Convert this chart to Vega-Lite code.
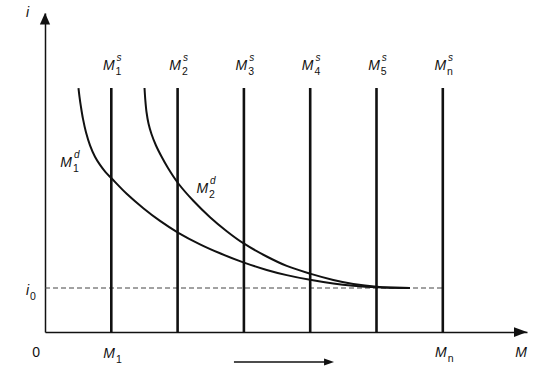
{
  "$schema": "https://vega.github.io/schema/vega-lite/v6.json",
  "width": 482,
  "height": 319,
  "autosize": {"type": "none"},
  "padding": {"left": 45, "top": 13, "right": 22, "bottom": 46},
  "background": "white",
  "config": {"view": {"stroke": null}},
  "datasets": {
    "supply": [
      {"x": 1, "y": 0, "y2": 5.545},
      {"x": 2, "y": 0, "y2": 5.545},
      {"x": 3, "y": 0, "y2": 5.545},
      {"x": 4, "y": 0, "y2": 5.545},
      {"x": 5, "y": 0, "y2": 5.545},
      {"x": 6, "y": 0, "y2": 5.545}
    ],
    "demand": [
      {"curve": "M1d", "x": 0.505, "y": 5.545},
      {"curve": "M1d", "x": 0.52, "y": 5.352},
      {"curve": "M1d", "x": 0.543, "y": 5.109},
      {"curve": "M1d", "x": 0.573, "y": 4.843},
      {"curve": "M1d", "x": 0.618, "y": 4.539},
      {"curve": "M1d", "x": 0.679, "y": 4.243},
      {"curve": "M1d", "x": 0.754, "y": 3.984},
      {"curve": "M1d", "x": 0.83, "y": 3.798},
      {"curve": "M1d", "x": 0.913, "y": 3.634},
      {"curve": "M1d", "x": 1.006, "y": 3.489},
      {"curve": "M1d", "x": 1.232, "y": 3.141},
      {"curve": "M1d", "x": 1.483, "y": 2.814},
      {"curve": "M1d", "x": 1.735, "y": 2.525},
      {"curve": "M1d", "x": 2.011, "y": 2.255},
      {"curve": "M1d", "x": 2.338, "y": 1.993},
      {"curve": "M1d", "x": 2.64, "y": 1.789},
      {"curve": "M1d", "x": 2.991, "y": 1.582},
      {"curve": "M1d", "x": 3.344, "y": 1.411},
      {"curve": "M1d", "x": 3.646, "y": 1.293},
      {"curve": "M1d", "x": 3.997, "y": 1.186},
      {"curve": "M1d", "x": 4.348, "y": 1.102},
      {"curve": "M1d", "x": 4.65, "y": 1.052},
      {"curve": "M1d", "x": 5.003, "y": 1.016},
      {"curve": "M1d", "x": 5.505, "y": 1.0},
      {"curve": "M2d", "x": 1.501, "y": 5.545},
      {"curve": "M2d", "x": 1.513, "y": 5.273},
      {"curve": "M2d", "x": 1.531, "y": 5.0},
      {"curve": "M2d", "x": 1.561, "y": 4.739},
      {"curve": "M2d", "x": 1.606, "y": 4.5},
      {"curve": "M2d", "x": 1.674, "y": 4.239},
      {"curve": "M2d", "x": 1.757, "y": 3.989},
      {"curve": "M2d", "x": 1.855, "y": 3.727},
      {"curve": "M2d", "x": 2.011, "y": 3.375},
      {"curve": "M2d", "x": 2.237, "y": 2.982},
      {"curve": "M2d", "x": 2.489, "y": 2.609},
      {"curve": "M2d", "x": 2.741, "y": 2.291},
      {"curve": "M2d", "x": 2.991, "y": 2.018},
      {"curve": "M2d", "x": 3.344, "y": 1.716},
      {"curve": "M2d", "x": 3.646, "y": 1.502},
      {"curve": "M2d", "x": 3.997, "y": 1.327},
      {"curve": "M2d", "x": 4.348, "y": 1.184},
      {"curve": "M2d", "x": 4.65, "y": 1.093},
      {"curve": "M2d", "x": 5.003, "y": 1.03},
      {"curve": "M2d", "x": 5.505, "y": 1.0}
    ],
    "trap": [{"x": 0, "x2": 6, "y": 1.0}],
    "labels": [
      {"x": 1.05, "y": 5.95, "main": "M", "sup": "s", "sub": "1"},
      {"x": 2.05, "y": 5.95, "main": "M", "sup": "s", "sub": "2"},
      {"x": 3.05, "y": 5.95, "main": "M", "sup": "s", "sub": "3"},
      {"x": 4.05, "y": 5.95, "main": "M", "sup": "s", "sub": "4"},
      {"x": 5.05, "y": 5.95, "main": "M", "sup": "s", "sub": "5"},
      {"x": 6.05, "y": 5.95, "main": "M", "sup": "s", "sub": "n"},
      {"x": 0.407, "y": 3.75, "main": "M", "sup": "d", "sub": "1"},
      {"x": 2.46, "y": 3.16, "main": "M", "sup": "d", "sub": "2"},
      {"x": 1.056, "y": -0.59, "main": "M", "sup": "", "sub": "1"},
      {"x": 6.06, "y": -0.57, "main": "M", "sup": "", "sub": "n"},
      {"x": 7.27, "y": -0.57, "main": "M", "sup": "", "sub": ""},
      {"x": -0.24, "y": 7.16, "main": "i", "sup": "", "sub": ""},
      {"x": -0.24, "y": 0.84, "main": "i", "sup": "", "sub": "0"}
    ],
    "origin": [{"x": -0.075, "y": -0.57, "main": "0"}],
    "xhead": [{"x": 7.27, "y": 0}],
    "yhead": [{"x": 0, "y": 7.25}],
    "shift": [{"x": 2.85, "x2": 4.25, "y": -0.68}],
    "shifthead": [{"x": 4.36, "y": -0.68}]
  },
  "encoding": {
    "x": {
      "field": "x",
      "type": "quantitative",
      "scale": {"domain": [0, 7.27], "nice": false, "zero": false},
      "axis": {"ticks": false, "labels": false, "grid": false, "title": null, "domainColor": "#111", "domainWidth": 1.5}
    },
    "y": {
      "field": "y",
      "type": "quantitative",
      "scale": {"domain": [0, 7.25], "nice": false, "zero": false},
      "axis": {"ticks": false, "labels": false, "grid": false, "title": null, "domainColor": "#111", "domainWidth": 1.5}
    }
  },
  "layer": [
    {
      "data": {"name": "trap"},
      "mark": {"type": "rule", "color": "#444", "strokeWidth": 1, "strokeDash": [5, 3]},
      "encoding": {"x2": {"field": "x2"}}
    },
    {
      "data": {"name": "supply"},
      "mark": {"type": "rule", "color": "#111", "strokeWidth": 2.6},
      "encoding": {"y2": {"field": "y2"}}
    },
    {
      "data": {"name": "demand"},
      "mark": {"type": "line", "color": "#111", "strokeWidth": 2, "interpolate": "catmull-rom"},
      "encoding": {"detail": {"field": "curve"}, "order": {"field": "x"}}
    },
    {
      "data": {"name": "xhead"},
      "mark": {"type": "point", "shape": "M0,0L-2,-0.75L-2,0.75Z", "size": 169, "filled": true, "color": "#111", "opacity": 1}
    },
    {
      "data": {"name": "yhead"},
      "mark": {"type": "point", "shape": "M0,0L-0.9,2L0.9,2Z", "size": 130, "filled": true, "color": "#111", "opacity": 1}
    },
    {
      "data": {"name": "shift"},
      "mark": {"type": "rule", "color": "#111", "strokeWidth": 1.5},
      "encoding": {"x2": {"field": "x2"}}
    },
    {
      "data": {"name": "shifthead"},
      "mark": {"type": "point", "shape": "M0,0L-2,-0.7L-2,0.7Z", "size": 100, "filled": true, "color": "#111", "opacity": 1}
    },
    {
      "data": {"name": "labels"},
      "mark": {"type": "text", "align": "right", "baseline": "alphabetic", "font": "Liberation Sans", "fontStyle": "italic", "fontSize": 14, "color": "#111"},
      "encoding": {"text": {"field": "main"}}
    },
    {
      "data": {"name": "labels"},
      "mark": {"type": "text", "align": "left", "baseline": "alphabetic", "dx": 2, "dy": -9, "font": "Liberation Sans", "fontStyle": "italic", "fontSize": 10, "color": "#111"},
      "encoding": {"text": {"field": "sup"}}
    },
    {
      "data": {"name": "labels"},
      "mark": {"type": "text", "align": "left", "baseline": "alphabetic", "dx": 1, "dy": 5, "font": "Liberation Sans", "fontSize": 10.5, "color": "#111"},
      "encoding": {"text": {"field": "sub"}}
    },
    {
      "data": {"name": "origin"},
      "mark": {"type": "text", "align": "right", "baseline": "alphabetic", "font": "Liberation Sans", "fontSize": 14, "color": "#111"},
      "encoding": {"text": {"field": "main"}}
    }
  ]
}
